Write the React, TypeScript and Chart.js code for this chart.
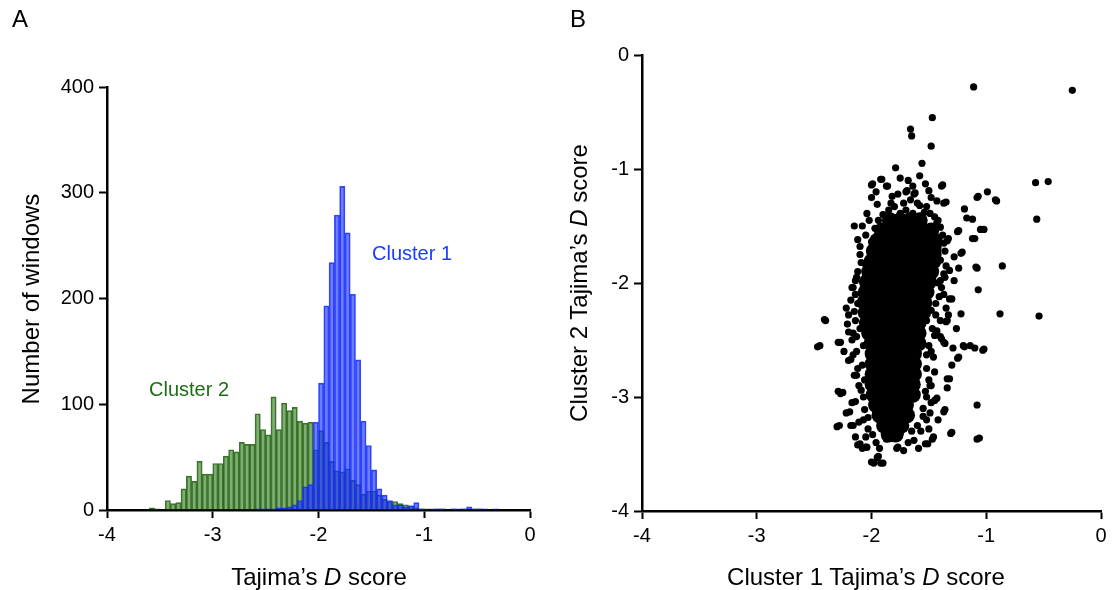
import React, { useEffect, useRef } from "react";
import { Chart, registerables } from "chart.js";

Chart.register(...registerables);

// ---------- Panel A: histogram of Tajima's D ----------
const BIN_START = -4;
const BIN_WIDTH = 0.05;

const cluster1Counts = [
  0, 0, 0, 0, 0, 0, 0, 0, 0, 0,
  0, 0, 0, 0, 0, 0, 0, 0, 0, 0,
  0, 0, 0, 0, 0, 0, 0, 0, 1, 1,
  1, 1, 2, 2, 3, 5, 9, 22, 24, 83,
  120, 193, 234, 279, 306, 262, 204, 142, 84, 61,
  38, 20, 14, 9, 5, 5, 3, 4, 7, 1,
  0, 1, 1, 1, 0, 1, 1, 1, 3, 1,
  1, 1, 0, 1, 0, 0, 0, 0, 0, 0,
];

const cluster2Counts = [
  0, 0, 0, 0, 0, 0, 0, 0, 2, 1,
  0, 9, 6, 7, 20, 32, 27, 46, 34, 34,
  44, 44, 51, 57, 55, 64, 62, 62, 91, 76,
  71, 107, 76, 101, 94, 97, 84, 82, 83, 57,
  75, 64, 46, 37, 36, 39, 28, 24, 15, 18,
  18, 14, 10, 8, 8, 6, 5, 4, 2, 1,
  1, 0, 1, 1, 0, 1, 0, 1, 0, 1,
  1, 0, 0, 0, 0, 0, 0, 0, 0, 0,
];

const histXRange = [-4, 0];
const histYRange = [0, 400];
const histYStep = 100;

// ---------- Panel B: scatter of cluster 1 vs cluster 2 ----------
const scatterRange = [-4, 0];

// dense core of the cloud (drawn with bigger dots)
const scatterCore: [number, number][] = [
  [-1.84, -1.45], [-1.75, -1.45], [-1.66, -1.45], [-1.58, -1.45],
  [-1.91, -1.54], [-1.82, -1.54], [-1.73, -1.54], [-1.64, -1.54], [-1.55, -1.54], [-1.48, -1.54],
  [-1.95, -1.63], [-1.86, -1.63], [-1.77, -1.63], [-1.68, -1.63], [-1.59, -1.63], [-1.5, -1.63], [-1.45, -1.63],
  [-1.98, -1.72], [-1.89, -1.72], [-1.8, -1.72], [-1.71, -1.72], [-1.62, -1.72], [-1.53, -1.72], [-1.46, -1.72],
  [-2.0, -1.81], [-1.91, -1.81], [-1.82, -1.81], [-1.73, -1.81], [-1.64, -1.81], [-1.55, -1.81], [-1.46, -1.81],
  [-2.02, -1.9], [-1.93, -1.9], [-1.84, -1.9], [-1.75, -1.9], [-1.66, -1.9], [-1.57, -1.9], [-1.48, -1.9],
  [-2.04, -1.99], [-1.95, -1.99], [-1.86, -1.99], [-1.77, -1.99], [-1.68, -1.99], [-1.59, -1.99], [-1.5, -1.99],
  [-2.05, -2.08], [-1.96, -2.08], [-1.87, -2.08], [-1.78, -2.08], [-1.69, -2.08], [-1.6, -2.08], [-1.52, -2.08],
  [-2.06, -2.17], [-1.97, -2.17], [-1.88, -2.17], [-1.79, -2.17], [-1.7, -2.17], [-1.61, -2.17], [-1.54, -2.17],
  [-2.05, -2.26], [-1.96, -2.26], [-1.87, -2.26], [-1.78, -2.26], [-1.69, -2.26], [-1.6, -2.26], [-1.55, -2.26],
  [-2.04, -2.35], [-1.95, -2.35], [-1.86, -2.35], [-1.77, -2.35], [-1.68, -2.35], [-1.59, -2.35],
  [-2.02, -2.44], [-1.93, -2.44], [-1.84, -2.44], [-1.75, -2.44], [-1.66, -2.44], [-1.59, -2.44],
  [-2.0, -2.53], [-1.91, -2.53], [-1.82, -2.53], [-1.73, -2.53], [-1.64, -2.53], [-1.59, -2.53],
  [-1.99, -2.62], [-1.9, -2.62], [-1.81, -2.62], [-1.72, -2.62], [-1.63, -2.62],
  [-1.99, -2.71], [-1.9, -2.71], [-1.81, -2.71], [-1.72, -2.71], [-1.63, -2.71],
  [-1.99, -2.8], [-1.9, -2.8], [-1.81, -2.8], [-1.72, -2.8], [-1.63, -2.8],
  [-1.99, -2.89], [-1.9, -2.89], [-1.81, -2.89], [-1.72, -2.89], [-1.64, -2.89],
  [-1.98, -2.98], [-1.89, -2.98], [-1.8, -2.98], [-1.71, -2.98], [-1.64, -2.98],
  [-1.96, -3.07], [-1.87, -3.07], [-1.78, -3.07], [-1.7, -3.07],
  [-1.93, -3.16], [-1.84, -3.16], [-1.76, -3.16], [-1.69, -3.16],
  [-1.89, -3.25], [-1.81, -3.25], [-1.74, -3.25],
  [-1.85, -3.33], [-1.79, -3.33],
];

// individual windows around the core and outliers
const scatterPoints: [number, number][] = [
  [-1.11, -0.28], [-0.25, -0.31], [-1.47, -0.55], [-1.66, -0.65], [-1.65, -0.71], [-1.48, -0.8],
  [-1.56, -0.95], [-1.79, -0.99], [-1.75, -1.08], [-1.92, -1.09], [-2.0, -1.14], [-1.87, -1.15],
  [-1.53, -1.13], [-1.5, -1.19], [-1.39, -1.15], [-1.64, -1.15], [-1.7, -1.2], [-1.77, -1.22],
  [-1.82, -1.24], [-1.63, -1.22], [-1.43, -1.28], [-1.35, -1.29], [-1.95, -1.31], [-2.04, -1.39],
  [-0.57, -1.12], [-0.46, -1.11], [-0.56, -1.44], [-0.99, -1.2], [-0.91, -1.28], [-1.08, -1.25],
  [-1.19, -1.35], [-1.17, -1.43], [-1.12, -1.44], [-1.25, -1.55], [-1.1, -1.61], [-1.12, -1.61],
  [-1.02, -1.53], [-1.05, -1.53], [-1.22, -1.74], [-1.28, -1.77], [-1.24, -1.87], [-1.32, -1.89],
  [-1.08, -1.87], [-0.86, -1.85], [-1.07, -2.06], [-0.88, -2.27], [-0.54, -2.29], [-1.22, -2.27],
  [-1.3, -2.14], [-2.41, -2.32], [-2.17, -2.04], [-2.13, -1.95], [-2.1, -1.68], [-2.0, -1.64],
  [-2.05, -1.83], [-1.54, -1.38], [-1.43, -1.47], [-1.34, -1.63], [-1.42, -1.69], [-1.4, -1.8],
  [-1.37, -1.92], [-1.39, -2.04], [-1.32, -2.14], [-1.35, -2.22], [-1.34, -2.33],
  [-2.47, -2.56], [-2.29, -2.52], [-2.2, -2.68], [-2.15, -2.81], [-2.29, -2.95], [-2.27, -2.97],
  [-2.22, -3.14], [-2.3, -3.26], [-2.18, -3.25], [-2.14, -3.35], [-2.12, -3.42], [-2.08, -3.45],
  [-2.05, -3.44], [-2.0, -3.57], [-1.95, -3.53], [-1.92, -3.58], [-1.78, -3.45], [-1.59, -3.45],
  [-1.53, -3.41], [-1.47, -3.37], [-1.31, -3.32], [-1.08, -3.37], [-1.08, -3.07], [-1.37, -3.13],
  [-1.45, -3.03], [-1.34, -2.84], [-1.34, -2.92], [-1.49, -2.9], [-1.25, -2.66], [-1.29, -2.57],
  [-1.19, -2.56], [-1.1, -2.57], [-1.03, -2.59], [-1.37, -2.52], [-1.4, -2.47], [-1.43, -2.42],
  [-1.4, -2.33], [-1.37, -2.1],
  [-1.99, -1.13], [-1.91, -1.09], [-1.86, -1.15], [-1.38, -1.14], [-1.62, -1.21], [-1.69, -1.19],
  [-1.37, -1.3], [-1.58, -1.32], [-1.66, -1.27], [-1.72, -1.3], [-1.85, -1.36], [-1.94, -1.45],
  [-1.75, -1.39], [-1.64, -1.39], [-1.49, -1.39], [-1.42, -1.45], [-1.87, -1.48], [-1.56, -1.42],
  [-1.07, -1.24], [-0.92, -1.27], [-1.24, -1.54], [-1.33, -1.61], [-1.4, -1.51], [-1.37, -1.65],
  [-1.93, -1.55], [-1.97, -1.77], [-1.21, -1.73], [-1.09, -1.86], [-1.46, -1.87], [-1.36, -1.95],
  [-2.16, -2.04], [-2.05, -1.84], [-2.11, -2.18],
  [-2.4, -2.33], [-2.45, -2.55], [-2.27, -2.52], [-2.21, -2.36], [-2.14, -2.33], [-2.18, -2.67],
  [-2.13, -2.81], [-2.25, -2.96], [-2.14, -3.04], [-2.19, -3.13], [-2.28, -3.25], [-2.16, -3.25],
  [-2.1, -3.41], [-2.04, -3.44], [-1.94, -3.52], [-1.98, -3.58], [-1.9, -3.58], [-1.96, -3.4],
  [-1.87, -3.37], [-1.77, -3.44], [-1.51, -3.41], [-1.46, -3.35], [-1.3, -3.31], [-1.06, -3.36],
  [-1.36, -3.11], [-1.43, -3.01], [-1.5, -3.28], [-1.32, -2.84], [-1.48, -2.9], [-1.46, -2.65],
  [-1.52, -2.63], [-1.24, -2.65], [-1.2, -2.55], [-1.14, -2.55], [-1.02, -2.58], [-1.36, -2.53],
  [-1.39, -2.49], [-1.35, -2.34], [-1.33, -2.28], [-1.52, -2.33], [-1.48, -2.24], [-2.2, -2.43],
  [-2.16, -2.44], [-2.17, -2.5], [-2.12, -2.18], [-2.13, -2.6], [-2.09, -2.94], [-2.06, -3.11],
  [-2.07, -3.2], [-2.03, -3.28], [-1.84, -3.29], [-1.75, -3.32], [-1.65, -3.3], [-1.55, -3.17],
  [-1.49, -3.14], [-1.52, -3.2], [-1.78, -3.35],
  [-2.08, -1.5], [-2.05, -1.58], [-2.1, -1.75], [-2.12, -1.9], [-2.14, -2.1], [-2.15, -2.25],
  [-2.1, -2.4], [-2.07, -2.55], [-2.08, -2.72], [-2.06, -2.85], [-2.07, -3.0], [-2.03, -3.18],
  [-1.99, -3.33], [-1.93, -3.45], [-1.46, -1.55], [-1.42, -1.75], [-1.4, -1.98], [-1.44, -2.18],
  [-1.47, -2.4], [-1.5, -2.55], [-1.52, -2.75], [-1.53, -2.95], [-1.55, -3.1], [-1.6, -3.25],
  [-1.68, -3.4], [-1.72, -3.47], [-1.9, -1.4], [-1.8, -1.33], [-1.7, -1.36], [-1.6, -1.3],
  [-1.52, -1.33], [-1.97, -1.52], [-1.45, -1.42],
  [-2.12, -1.62], [-2.09, -1.82], [-2.14, -1.98], [-2.18, -2.15], [-2.2, -2.28], [-2.13, -2.47],
  [-2.16, -2.63], [-2.12, -2.75], [-2.11, -2.9], [-2.17, -3.05], [-2.11, -3.22], [-2.05, -3.35],
  [-2.22, -2.22], [-2.24, -2.6], [-2.02, -1.45], [-2.15, -1.5],
  [-1.38, -1.58], [-1.36, -1.72], [-1.35, -1.85], [-1.42, -2.0], [-1.44, -2.28], [-1.45, -2.46],
  [-1.48, -2.6], [-1.45, -2.78], [-1.5, -2.85], [-1.48, -3.05], [-1.52, -3.0], [-1.57, -3.3],
  [-1.63, -3.38], [-1.41, -2.12], [-1.28, -1.98], [-1.26, -2.4], [-1.3, -2.72], [-1.42, -3.2],
  [-2.0, -1.25], [-1.68, -1.1], [-1.58, -1.06], [-1.83, -1.3], [-1.48, -1.25], [-1.96, -1.2],
];

// ---------- styles ----------
const FONT = "'Liberation Sans', Arial, Helvetica, sans-serif";
const BLACK = "#000000";

function axisCommon(min: number, max: number, step: number) {
  return {
    type: "linear" as const,
    min,
    max,
    offset: false,
    grid: {
      display: true,
      offset: false,
      drawOnChartArea: false,
      drawTicks: true,
      tickLength: 8,
      tickWidth: 2,
      tickColor: BLACK,
      color: BLACK,
    },
    border: { display: true, color: BLACK, width: 2.5 },
    ticks: {
      stepSize: step,
      color: BLACK,
      padding: 5,
      font: { family: FONT, size: 20 },
      maxRotation: 0,
      autoSkip: false,
    },
  };
}

function HistogramPanel() {
  const ref = useRef<HTMLCanvasElement>(null);
  useEffect(() => {
    const centers = cluster1Counts.map((_, i) => BIN_START + BIN_WIDTH * (i + 0.5));
    const chart = new Chart(ref.current!, {
      type: "bar",
      data: {
        datasets: [
          {
            label: "Cluster 1",
            data: centers.map((x, i) => ({ x, y: cluster1Counts[i] })),
            backgroundColor: "rgba(20,45,255,0.62)",
            borderColor: "rgba(25,45,245,0.85)",
            borderWidth: 1,
            grouped: false,
            categoryPercentage: 1,
            barPercentage: 1,
          } as any,
          {
            label: "Cluster 2",
            data: centers.map((x, i) => ({ x, y: cluster2Counts[i] })),
            backgroundColor: "rgba(50,122,30,0.62)",
            borderColor: "rgba(30,90,15,0.85)",
            borderWidth: 1,
            grouped: false,
            categoryPercentage: 1,
            barPercentage: 1,
          } as any,
        ],
      },
      options: {
        responsive: false,
        animation: false,
        events: [],
        layout: { padding: { left: 0, right: 26, top: 87, bottom: 0 } },
        plugins: { legend: { display: false }, tooltip: { enabled: false }, title: { display: false } },
        scales: {
          x: {
            ...axisCommon(histXRange[0], histXRange[1], 1),
            afterFit: (s: any) => { s.height = 80; },
          } as any,
          y: {
            ...axisCommon(histYRange[0], histYRange[1], histYStep),
            afterFit: (s: any) => { s.width = 107; },
          } as any,
        },
      },
    });
    return () => chart.destroy();
  }, []);
  return (
    <canvas
      ref={ref}
      width={556}
      height={590}
      style={{ position: "absolute", left: 0, top: 0, width: 556, height: 590 }}
    />
  );
}

function ScatterPanel() {
  const ref = useRef<HTMLCanvasElement>(null);
  useEffect(() => {
    const chart = new Chart(ref.current!, {
      type: "scatter",
      data: {
        datasets: [
          {
            label: "core",
            data: scatterCore.map(([x, y]) => ({ x, y })),
            backgroundColor: BLACK,
            borderWidth: 0,
            pointRadius: 8,
          },
          {
            label: "windows",
            data: scatterPoints.map(([x, y]) => ({ x, y })),
            backgroundColor: BLACK,
            borderWidth: 0,
            pointRadius: 3.6,
          },
        ],
      },
      options: {
        responsive: false,
        animation: false,
        events: [],
        layout: { padding: { left: 0, right: 12, top: 55, bottom: 0 } },
        plugins: { legend: { display: false }, tooltip: { enabled: false }, title: { display: false } },
        scales: {
          x: {
            ...axisCommon(scatterRange[0], scatterRange[1], 1),
            afterFit: (s: any) => { s.height = 79; },
          } as any,
          y: {
            ...axisCommon(scatterRange[0], scatterRange[1], 1),
            afterFit: (s: any) => { s.width = 86; },
          } as any,
        },
      },
    });
    return () => chart.destroy();
  }, []);
  return (
    <canvas
      ref={ref}
      width={557}
      height={590}
      style={{ position: "absolute", left: 556, top: 0, width: 557, height: 590 }}
    />
  );
}

const textBase: React.CSSProperties = {
  position: "absolute",
  fontFamily: FONT,
  color: BLACK,
  lineHeight: 1,
  whiteSpace: "nowrap",
};

function Centered({ x, y, rotate, size, children, color }: any) {
  return (
    <div
      style={{
        ...textBase,
        left: x,
        top: y,
        fontSize: size,
        color: color || BLACK,
        transform: `translate(-50%, -50%)${rotate ? " rotate(-90deg)" : ""}`,
      }}
    >
      {children}
    </div>
  );
}

export default function App() {
  return (
    <div
      style={{
        position: "fixed",
        left: 0,
        top: 0,
        width: 1113,
        height: 590,
        background: "#ffffff",
        overflow: "hidden",
      }}
    >
      <HistogramPanel />
      <ScatterPanel />
      <div style={{ ...textBase, left: 12, top: 7, fontSize: 24 }}>A</div>
      <div style={{ ...textBase, left: 570, top: 7, fontSize: 24 }}>B</div>
      <Centered x={31} y={299} rotate size={24}>Number of windows</Centered>
      <Centered x={319} y={577} size={24}>
        Tajima’s <i>D</i> score
      </Centered>
      <Centered x={579} y={283} rotate size={24}>
        Cluster 2 Tajima’s <i>D</i> score
      </Centered>
      <Centered x={866} y={577} size={24}>
        Cluster 1 Tajima’s <i>D</i> score
      </Centered>
      <div style={{ ...textBase, left: 372, top: 243, fontSize: 20, color: "#1a3cff" }}>Cluster 1</div>
      <div style={{ ...textBase, left: 149, top: 379, fontSize: 20, color: "#1c6e14" }}>Cluster 2</div>
    </div>
  );
}
